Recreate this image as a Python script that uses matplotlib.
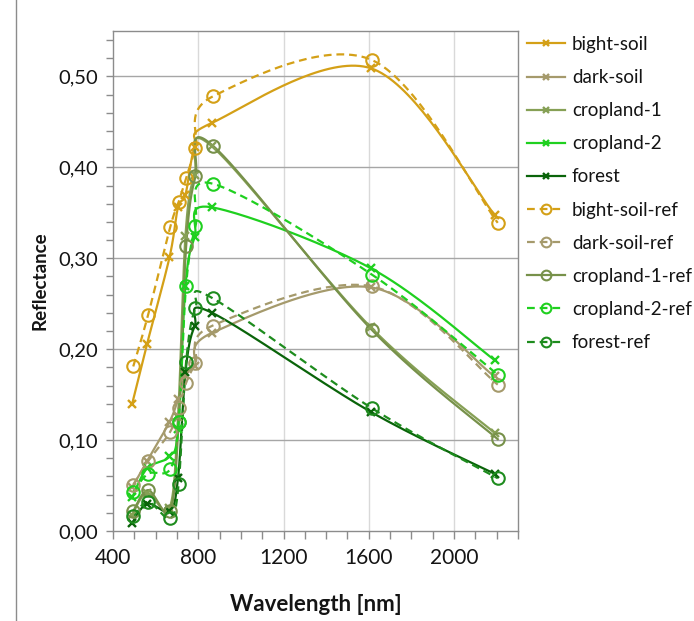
import numpy as np
import matplotlib
matplotlib.use("Agg")
import matplotlib.pyplot as plt
from matplotlib.lines import Line2D
from matplotlib.ticker import MultipleLocator, FuncFormatter

plt.rcParams['font.family'] = ['Lato', 'DejaVu Sans']

# ---------------- data ----------------
wl_sat = [490, 560, 665, 705, 740, 783, 865, 1610, 2190]
wl_ref = [495, 565, 668, 708, 743, 787, 868, 1615, 2205]

bight_soil     = [0.140, 0.206, 0.301, 0.356, 0.370, 0.422, 0.449, 0.509, 0.348]
dark_soil      = [0.048, 0.077, 0.120, 0.145, 0.172, 0.182, 0.218, 0.268, 0.170]
cropland_1     = [0.018, 0.042, 0.025, 0.125, 0.325, 0.392, 0.423, 0.224, 0.108]
cropland_2     = [0.037, 0.069, 0.082, 0.112, 0.270, 0.323, 0.356, 0.289, 0.188]
forest         = [0.009, 0.030, 0.022, 0.058, 0.175, 0.225, 0.240, 0.131, 0.063]

bight_soil_ref = [0.181, 0.238, 0.334, 0.362, 0.388, 0.421, 0.478, 0.518, 0.339]
dark_soil_ref  = [0.051, 0.077, 0.109, 0.135, 0.163, 0.185, 0.226, 0.269, 0.161]
cropland_1_ref = [0.022, 0.045, 0.022, 0.120, 0.313, 0.390, 0.424, 0.221, 0.101]
cropland_2_ref = [0.043, 0.063, 0.068, 0.120, 0.270, 0.335, 0.382, 0.282, 0.172]
forest_ref     = [0.016, 0.032, 0.014, 0.052, 0.186, 0.245, 0.256, 0.135, 0.058]

labels = ['bight-soil', 'dark-soil', 'cropland-1', 'cropland-2', 'forest',
          'bight-soil-ref', 'dark-soil-ref', 'cropland-1-ref', 'cropland-2-ref', 'forest-ref']

x_ticks = [400, 800, 1200, 1600, 2000]

# ---------------- style ----------------
col = {
    'bight-soil': '#D4A017', 'dark-soil': '#A59A6C', 'cropland-1': '#86A055',
    'cropland-2': '#1FD01F', 'forest': '#0A640A',
    'bight-soil-ref': '#D4A017', 'dark-soil-ref': '#A59A6C', 'cropland-1-ref': '#77914A',
    'cropland-2-ref': '#1FD01F', 'forest-ref': '#1E8C1E',
}
dash = (0, (3.5, 2.2))
txt = '#141414'

W, H = 694, 621
fig = plt.figure(figsize=(W / 100, H / 100), dpi=100)
ax = fig.add_axes([113 / W, 1 - 531 / H, (518 - 113) / W, (531 - 31) / H])
ax.set_xlim(400, 2300)
ax.set_ylim(0, 0.55)


def excel_smooth(x, y, n=40):
    P = ax.transData.transform(np.column_stack([x, y]))
    m = len(P)
    out = []
    for i in range(m - 1):
        p0 = P[i - 1] if i > 0 else P[i]
        p1, p2 = P[i], P[i + 1]
        p3 = P[i + 2] if i + 2 < m else P[i + 1]
        c1 = p1 + (p2 - p0) / 6.0
        c2 = p2 - (p3 - p1) / 6.0
        t = np.linspace(0, 1, n)[:, None]
        seg = (1 - t) ** 3 * p1 + 3 * (1 - t) ** 2 * t * c1 + 3 * (1 - t) * t ** 2 * c2 + t ** 3 * p2
        out.append(seg if i == 0 else seg[1:])
    out = np.vstack(out)
    d = ax.transData.inverted().transform(out)
    return d[:, 0], d[:, 1]


series = [
    ('bight-soil', wl_sat, bight_soil, '-', 'x'),
    ('dark-soil', wl_sat, dark_soil, '-', 'x'),
    ('cropland-1', wl_sat, cropland_1, '-', 'x'),
    ('cropland-2', wl_sat, cropland_2, '-', 'x'),
    ('forest', wl_sat, forest, '-', 'x'),
    ('bight-soil-ref', wl_ref, bight_soil_ref, dash, 'o'),
    ('dark-soil-ref', wl_ref, dark_soil_ref, dash, 'o'),
    ('cropland-1-ref', wl_ref, cropland_1_ref, '-', 'o'),
    ('cropland-2-ref', wl_ref, cropland_2_ref, dash, 'o'),
    ('forest-ref', wl_ref, forest_ref, dash, 'o'),
]

handles = []
for name, xs, ys, ls, mk in series:
    c = col[name]
    sx, sy = excel_smooth(xs, ys)
    ax.plot(sx, sy, color=c, lw=1.6, ls=ls, zorder=3)
    if mk == 'x':
        ax.plot(xs, ys, ls='none', marker='x', ms=5.5, mew=1.7, color=c, zorder=4)
        handles.append(Line2D([], [], color=c, lw=1.6, ls=ls, marker='x', ms=5, mew=1.7))
    else:
        ax.plot(xs, ys, ls='none', marker='o', ms=9, mew=1.5, mfc='none', mec=c, zorder=4)
        handles.append(Line2D([], [], color=c, lw=1.6, ls=ls, marker='o', ms=7, mew=1.5, mfc='none'))

# grid
for xv in x_ticks[1:]:
    ax.axvline(xv, color='#D9D9D9', lw=1.0, zorder=1)
for yv in np.arange(0.1, 0.55, 0.1):
    ax.axhline(yv, color='#A6A6A6', lw=1.0, zorder=1)

# axes
ax.xaxis.set_minor_locator(MultipleLocator(100))
ax.yaxis.set_major_locator(MultipleLocator(0.1))
ax.yaxis.set_minor_locator(MultipleLocator(0.02))
ax.set_xticks(x_ticks)
ax.yaxis.set_major_formatter(FuncFormatter(lambda v, p: f"{v:.2f}".replace('.', ',')))
ax.tick_params(axis='both', which='both', direction='out', color='#8C8C8C', width=1.0)
ax.tick_params(axis='x', which='both', length=6)
ax.tick_params(axis='y', which='both', length=5)
ax.tick_params(axis='x', which='major', labelsize=15, labelcolor=txt, pad=6)
ax.tick_params(axis='y', which='major', labelsize=14.5, labelcolor=txt, pad=6)
for s in ax.spines.values():
    s.set_color('#8C8C8C')
    s.set_linewidth(1.0)

ax.set_xlabel('Wavelength [nm]', fontsize=16, fontweight='bold', labelpad=19, color=txt)
ax.set_ylabel('Reflectance', fontsize=13.5, fontweight='bold', labelpad=7, color=txt)

fig.legend(handles, labels, loc='upper left', bbox_to_anchor=(527 / W, 1 - 36 / H),
           frameon=False, fontsize=13.5, handlelength=2.0, handletextpad=0.4,
           labelspacing=0.86, borderpad=0, borderaxespad=0, labelcolor=txt)

# outer chart border (left edge visible)
fig.add_artist(Line2D([16 / W, 16 / W], [0, 1], transform=fig.transFigure, color='#8C8C8C', lw=1.0))

fig.savefig('out.png', dpi=100)
